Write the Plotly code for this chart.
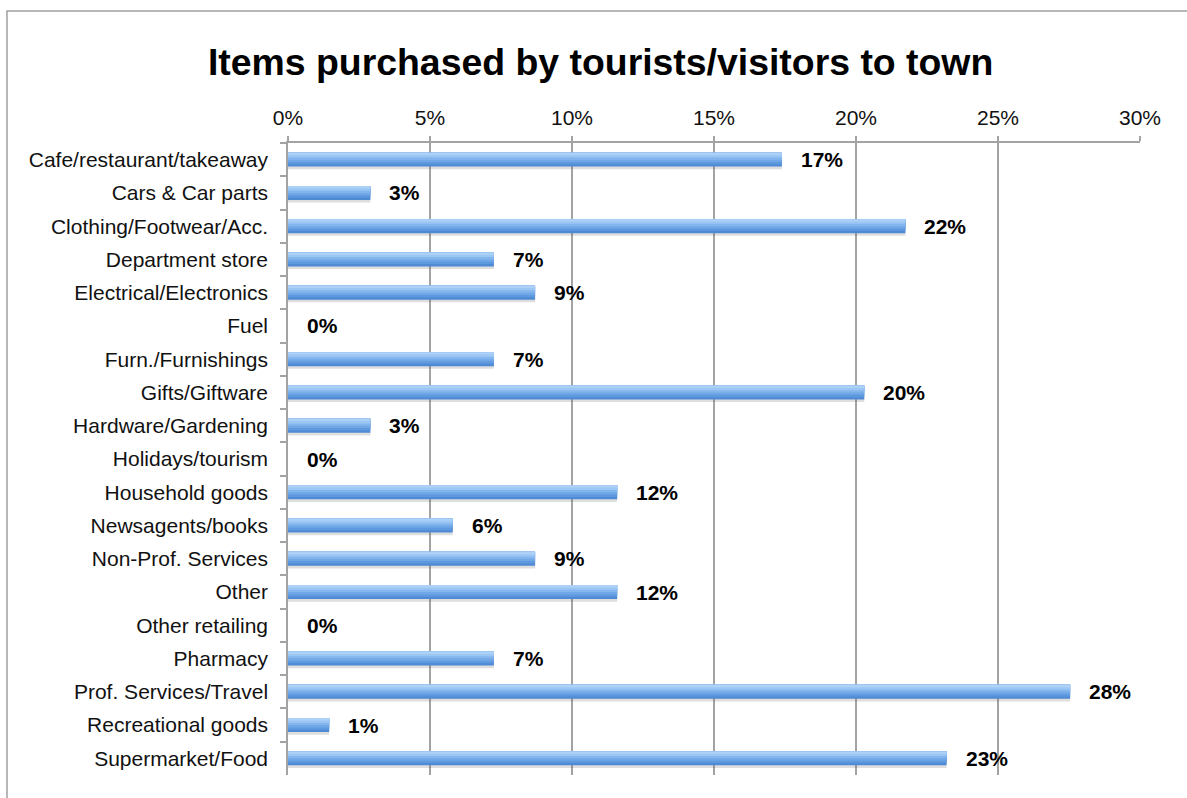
import plotly.graph_objects as go

# Share of tourists/visitors buying each item type (%)
categories = [
    "Cafe/restaurant/takeaway",
    "Cars & Car parts",
    "Clothing/Footwear/Acc.",
    "Department store",
    "Electrical/Electronics",
    "Fuel",
    "Furn./Furnishings",
    "Gifts/Giftware",
    "Hardware/Gardening",
    "Holidays/tourism",
    "Household goods",
    "Newsagents/books",
    "Non-Prof. Services",
    "Other",
    "Other retailing",
    "Pharmacy",
    "Prof. Services/Travel",
    "Recreational goods",
    "Supermarket/Food",
]
values = [17.39, 2.90, 21.74, 7.25, 8.70, 0.0, 7.25, 20.29, 2.90, 0.0,
          11.59, 5.80, 8.70, 11.59, 0.0, 7.25, 27.54, 1.45, 23.19]
x_ticks = [0, 5, 10, 15, 20, 25, 30]

FONT = "Liberation Sans, Arial, sans-serif"
GRID = "#a3a3a3"
BAR_W = 0.42

fig = go.Figure()

# soft drop shadow beneath each bar
fig.add_trace(go.Bar(
    y=categories, x=values, orientation="h",
    width=BAR_W, offset=-BAR_W / 2 + 0.08,
    marker=dict(color="rgba(90,90,90,0.2)", line=dict(width=0)),
    hoverinfo="skip", showlegend=False,
))

# vertical gradient faked with stacked bands, darkest at the bottom
bands = ["#4f8ad4", "#5e98de", "#6fa7e7", "#84b6ee", "#9cc6f4", "#aed2f7"]
n = len(bands)
for i, col in enumerate(bands):
    w = BAR_W * (n - i) / n
    fig.add_trace(go.Bar(
        y=categories, x=values, orientation="h",
        width=w, offset=-BAR_W / 2,
        marker=dict(color=col, line=dict(width=0)),
        hoverinfo="skip" if i else None, showlegend=False,
    ))

# value labels just past the end of each bar
annotations = [
    dict(x=v, y=c, xref="x", yref="y", text=f"<b>{round(v)}%</b>",
         showarrow=False, xanchor="left", yanchor="middle", xshift=17,
         font=dict(family=FONT, size=21, color="#000000"))
    for c, v in zip(categories, values)
]

# plot area occupies x 288..1140, y 143..775 of the 1187x798 page
L, R, T, B = 288, 47, 143, 23
pw, ph = 1187 - L - R, 798 - T - B
def px_x(p):
    return (p - L) / pw
def px_y(p):
    return (798 - B - p) / ph

fig.update_layout(
    width=1187, height=798,
    margin=dict(l=L, r=R, t=T, b=B, pad=0),
    paper_bgcolor="white", plot_bgcolor="white",
    barmode="overlay",
    font=dict(family=FONT, color="#111111"),
    title=dict(
        text="<b>Items purchased by tourists/visitors to town</b>",
        font=dict(family=FONT, size=37.4, color="#000000"),
        x=0.506, xanchor="center", xref="container",
        y=1 - 62 / 798, yanchor="middle", yref="container",
    ),
    xaxis=dict(
        side="top", range=[0, 30], tickvals=x_ticks,
        ticktext=[f"{t}%" for t in x_ticks],
        tickfont=dict(family=FONT, size=21, color="#111111"),
        showgrid=True, gridcolor=GRID, gridwidth=1.5,
        showline=True, linecolor=GRID, linewidth=1.5,
        ticks="outside", ticklen=5, tickcolor=GRID, tickwidth=1.5,
        ticklabelstandoff=3,
        zeroline=False, fixedrange=True,
    ),
    yaxis=dict(
        categoryorder="array", categoryarray=categories,
        autorange="reversed",
        tickfont=dict(family=FONT, size=21, color="#111111"),
        showgrid=False, zeroline=False,
        showline=True, linecolor=GRID, linewidth=1.5,
        ticks="outside", ticklen=6, tickcolor=GRID, tickwidth=1.5,
        tickson="boundaries", ticklabelstandoff=14,
    ),
    annotations=annotations,
    shapes=[
        # outer chart frame
        dict(type="rect", xref="paper", yref="paper",
             x0=px_x(7), x1=px_x(1200), y0=px_y(812), y1=px_y(11),
             line=dict(color="#a0a0a0", width=1.5), fillcolor="rgba(0,0,0,0)",
             layer="below"),
    ],
)

fig.write_html("out.html")
